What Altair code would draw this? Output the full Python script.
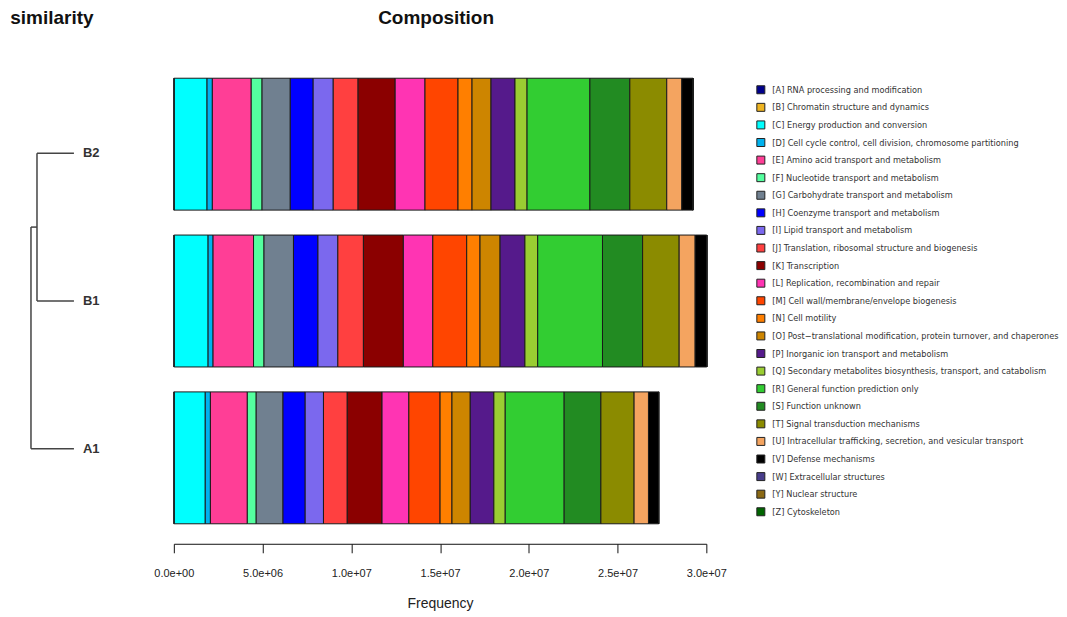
import altair as alt
import pandas as pd

# ---------------- data ----------------
samples = ["B2", "B1", "A1"]
codes = ["A", "B", "C", "D", "E", "F", "G", "H", "I", "J", "K", "L", "M",
         "N", "O", "P", "Q", "R", "S", "T", "U", "V", "W", "Y", "Z"]
names = [
    "RNA processing and modification",
    "Chromatin structure and dynamics",
    "Energy production and conversion",
    "Cell cycle control, cell division, chromosome partitioning",
    "Amino acid transport and metabolism",
    "Nucleotide transport and metabolism",
    "Carbohydrate transport and metabolism",
    "Coenzyme transport and metabolism",
    "Lipid transport and metabolism",
    "Translation, ribosomal structure and biogenesis",
    "Transcription",
    "Replication, recombination and repair",
    "Cell wall/membrane/envelope biogenesis",
    "Cell motility",
    "Post\u2212translational modification, protein turnover, and chaperones",
    "Inorganic ion transport and metabolism",
    "Secondary metabolites biosynthesis, transport, and catabolism",
    "General function prediction only",
    "Function unknown",
    "Signal transduction mechanisms",
    "Intracellular trafficking, secretion, and vesicular transport",
    "Defense mechanisms",
    "Extracellular structures",
    "Nuclear structure",
    "Cytoskeleton",
]
colors = ["#00008B", "#EEB422", "#00FFFF", "#00B2EE", "#FF3E96", "#54FF9F",
          "#708090", "#0000FF", "#7B68EE", "#FF4040", "#8B0000", "#FF34B3",
          "#FF4500", "#FF7F00", "#CD8500", "#551A8B", "#9ACD32", "#32CD32",
          "#228B22", "#8B8B00", "#F4A460", "#000000", "#483D8B", "#8B6914",
          "#006400"]

# frequencies in millions, order A..Z
B2_vals = [0.02, 0.01, 1.84, 0.30, 2.19, 0.61, 1.59, 1.29, 1.13, 1.40, 2.09, 1.68,
           1.86, 0.79, 1.07, 1.35, 0.68, 3.54, 2.25, 2.08, 0.85, 0.62, 0.004, 0.002, 0.004]
B1_vals = [0.02, 0.01, 1.90, 0.28, 2.28, 0.59, 1.66, 1.38, 1.12, 1.44, 2.25, 1.66,
           1.91, 0.75, 1.13, 1.40, 0.72, 3.65, 2.26, 2.06, 0.90, 0.65, 0.004, 0.002, 0.004]
A1_vals = [0.02, 0.01, 1.74, 0.29, 2.08, 0.50, 1.51, 1.25, 1.03, 1.34, 1.96, 1.51,
           1.76, 0.67, 1.03, 1.33, 0.64, 3.32, 2.07, 1.87, 0.81, 0.57, 0.004, 0.002, 0.004]

tick_values = [0, 5e6, 1e7, 1.5e7, 2e7, 2.5e7, 3e7]
tick_labels = ["0.0e+00", "5.0e+06", "1.0e+07", "1.5e+07", "2.0e+07", "2.5e+07", "3.0e+07"]

# dendrogram: leaf order positions and merge heights
leaf_names = ["B2", "B1", "A1"]
leaf_pos = [1, 2, 3]
merge_B = 0.86     # B2 + B1
merge_root = 1.0   # (B2,B1) + A1

# ---------------- tables ----------------
labels = [f"[{c}] {n}" for c, n in zip(codes, names)]
rows = []
for s, vals in zip(samples, [B2_vals, B1_vals, A1_vals]):
    for i, (lab, v) in enumerate(zip(labels, vals)):
        rows.append({"sample": s, "category": lab, "idx": i, "value": v * 1e6})
df = pd.DataFrame(rows)

mid_B = (leaf_pos[0] + leaf_pos[1]) / 2
segs = pd.DataFrame([
    {"x": 0, "x2": merge_B, "y": leaf_pos[0], "y2": leaf_pos[0]},
    {"x": 0, "x2": merge_B, "y": leaf_pos[1], "y2": leaf_pos[1]},
    {"x": merge_B, "x2": merge_B, "y": leaf_pos[0], "y2": leaf_pos[1]},
    {"x": merge_B, "x2": merge_root, "y": mid_B, "y2": mid_B},
    {"x": 0, "x2": merge_root, "y": leaf_pos[2], "y2": leaf_pos[2]},
    {"x": merge_root, "x2": merge_root, "y": mid_B, "y2": leaf_pos[2]},
])
leaves = pd.DataFrame({"name": leaf_names, "pos": leaf_pos, "h": [0, 0, 0]})

label_expr = " : ".join(
    [f"datum.value == {v} ? '{l}'" for v, l in zip(tick_values, tick_labels)]
) + " : ''"

TITLE_FONT = "Liberation Sans"
LEGEND_FONT = "DejaVu Sans Condensed, Liberation Sans, sans-serif"
PLOT_H = 446

# ---------------- dendrogram ----------------
xs = alt.Scale(domain=[0, 1], reverse=True)
ys = alt.Scale(domain=[0.493, 3.507], reverse=True)
rules = alt.Chart(segs).mark_rule(color="#444444", strokeWidth=1.5).encode(
    x=alt.X("x:Q", scale=xs, axis=None),
    x2="x2:Q",
    y=alt.Y("y:Q", scale=ys, axis=None),
    y2="y2:Q",
)
txt = alt.Chart(leaves).mark_text(
    align="left", baseline="middle", dx=9, fontSize=13, fontWeight="bold",
    font=TITLE_FONT, color="#333333"
).encode(
    x=alt.X("h:Q", scale=xs, axis=None),
    y=alt.Y("pos:Q", scale=ys, axis=None),
    text="name:N",
)
dendro = alt.layer(rules, txt).properties(
    width=43, height=PLOT_H,
    title=alt.TitleParams("similarity", anchor="start", dx=-20, fontSize=19,
                          fontWeight="bold", font=TITLE_FONT, offset=50, color="#111111"),
)

# ---------------- bars ----------------
bars = alt.Chart(df).mark_bar(stroke="#1a1a1a", strokeWidth=1).encode(
    x=alt.X("value:Q", stack="zero",
            scale=alt.Scale(domain=[0, 3e7], nice=False),
            axis=alt.Axis(values=tick_values, labelExpr=label_expr, grid=False,
                          offset=20, tickSize=9, tickColor="#111111",
                          domainColor="#111111", labelFontSize=11,
                          labelFont=TITLE_FONT, labelColor="#222222",
                          labelFlush=False, labelOverlap=False,
                          labelPadding=15, title="Frequency", titleFontSize=14,
                          titleFont=TITLE_FONT, titleFontWeight="normal",
                          titleColor="#222222", titlePadding=18)),
    y=alt.Y("sample:N", sort=samples, axis=None,
            scale=alt.Scale(paddingInner=0.159, paddingOuter=0)),
    color=alt.Color("category:N",
                    scale=alt.Scale(domain=labels, range=colors),
                    sort=labels,
                    legend=alt.Legend(orient="none", legendX=726, legendY=7,
                                      title=None, symbolType="square",
                                      symbolSize=64, symbolStrokeColor="#222222",
                                      symbolStrokeWidth=1, labelFontSize=9.1,
                                      labelFont=LEGEND_FONT,
                                      labelColor="#333333", labelLimit=400,
                                      labelOffset=7, rowPadding=4.6,
                                      columns=1)),
    order=alt.Order("idx:Q", sort="ascending"),
).properties(
    width=533, height=PLOT_H,
    title=alt.TitleParams("Composition", anchor="middle", fontSize=19,
                          fontWeight="bold", font=TITLE_FONT, offset=50,
                          color="#111111", dx=-4),
)

chart = alt.hconcat(dendro, bars, spacing=100, bounds="flush").properties(
    padding={"left": 2, "top": 0, "right": 0, "bottom": 0}
).configure_view(stroke=None)

chart.save("out.html", embed_options={"renderer": "svg", "actions": False})
